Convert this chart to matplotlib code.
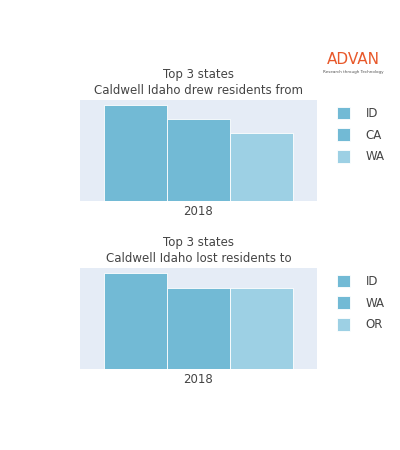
import matplotlib.pyplot as plt

year = "2018"
from_states = ["ID", "CA", "WA"]
from_vals = [96, 82, 68]
to_states = ["ID", "WA", "OR"]
to_vals = [96, 81, 81]
colors = ["#72bad5", "#72bad5", "#9dd0e4"]
bg = "#e5ecf6"
tc = "#444444"

fig = plt.figure(figsize=(4, 4.5), dpi=100)
W, H = 400, 450

def panel(top, bottom, states, vals, title):
    ax = fig.add_axes([80 / W, 1 - bottom / H, 237 / W, (bottom - top) / H])
    ax.set_facecolor(bg)
    w = 0.8 / 3
    for i, (s, v) in enumerate(zip(states, vals)):
        ax.bar(-0.4 + w / 2 + i * w, v, width=w, color=colors[i], edgecolor="white", linewidth=0.6, label=s)
    ax.set_xlim(-0.5, 0.5)
    ax.set_ylim(0, 101)
    ax.set_yticks([])
    ax.set_xticks([0])
    ax.set_xticklabels([year], fontsize=8.5, color=tc)
    ax.tick_params(length=0, pad=3)
    for sp in ax.spines.values():
        sp.set_visible(False)
    ax.set_title(title, fontsize=8.5, color=tc, pad=4, linespacing=1.3)
    leg = ax.legend(loc="upper left", bbox_to_anchor=(1.04, 1.04), frameon=False,
                    fontsize=8.5, handlelength=1.1, handleheight=1.3, labelspacing=0.7, handletextpad=1.3)
    for t in leg.get_texts():
        t.set_color(tc)

panel(100, 201, from_states, from_vals, "Top 3 states\nCaldwell Idaho drew residents from")
panel(268, 369, to_states, to_vals, "Top 3 states\nCaldwell Idaho lost residents to")

fig.text(353 / W, 1 - 60 / H, "ADVAN", fontsize=11, color="#e8582a", ha="center", va="center")
fig.text(353 / W, 1 - 72 / H, "Research through Technology", fontsize=3, color="#555555", ha="center", va="center")

fig.savefig("out.png", dpi=100, facecolor="white")
